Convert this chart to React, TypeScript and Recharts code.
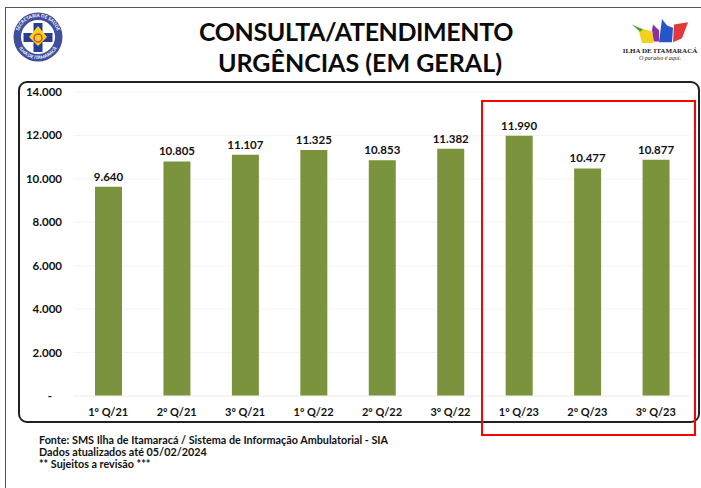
import { BarChart, Bar, XAxis, YAxis, CartesianGrid, LabelList } from "recharts";

const quarters = ["1º Q/21", "2º Q/21", "3º Q/21", "1º Q/22", "2º Q/22", "3º Q/22", "1º Q/23", "2º Q/23", "3º Q/23"];
const atendimentos = [9640, 10805, 11107, 11325, 10853, 11382, 11990, 10477, 10877];
const yTicks = [0, 2000, 4000, 6000, 8000, 10000, 12000, 14000];
const notes = [
  "Fonte: SMS Ilha de Itamaracá / Sistema de Informação Ambulatorial - SIA",
  "Dados atualizados até 05/02/2024",
  "** Sujeitos a revisão ***",
];

const data = quarters.map((q, i) => ({ quarter: q, value: atendimentos[i] }));

const FONT = "Lato, 'Open Sans', sans-serif";
const fmt = (v: number) => (v === 0 ? "-" : v.toLocaleString("de-DE"));

const YTick = ({ x, y, payload }: any) => (
  <text
    x={payload.value === 0 ? x - 10 : x}
    y={y}
    dy={4}
    textAnchor="end"
    fontSize={11.5}
    fontWeight={700}
    fill="#111"
    fontFamily={FONT}
  >
    {fmt(payload.value)}
  </text>
);

const titleStyle = {
  position: "absolute",
  fontFamily: FONT,
  fontWeight: 700,
  fontSize: 25,
  lineHeight: "31px",
  color: "#0b0b0b",
  whiteSpace: "nowrap",
  textAlign: "center",
  width: 400,
} as const;

const App = () => {
  return (
    <div style={{ position: "absolute", left: 0, top: 0, width: 701, height: 488, background: "#fff", overflow: "hidden" }}>
      {/* slide border and chart frame */}
      <div style={{ position: "absolute", left: 5, top: 7, width: 700, height: 490, border: "1.5px solid #555" }} />
      <div style={{ position: "absolute", left: 18, top: 81, width: 678, height: 338, border: "2px solid #222", borderRadius: 9 }} />

      <div style={{ position: "absolute", left: 0, top: 0 }}>
        <BarChart width={701} height={488} data={data} margin={{ top: 92, right: 11, bottom: 62, left: 0 }}>
          <CartesianGrid vertical={false} stroke="#f4f4f4" />
          <XAxis
            dataKey="quarter"
            axisLine={{ stroke: "#f0f0f0" }}
            tickLine={false}
            interval={0}
            tickMargin={6}
            tick={{ fontSize: 11, fontWeight: 700, fill: "#111", fontFamily: FONT }}
          />
          <YAxis
            width={74}
            domain={[0, 14000]}
            ticks={yTicks}
            axisLine={false}
            tickLine={false}
            tickMargin={6}
            tick={<YTick />}
          />
          <Bar dataKey="value" fill="#7a933c" barSize={27} isAnimationActive={false}>
            <LabelList
              dataKey="value"
              position="top"
              offset={6}
              formatter={(v: any) => fmt(Number(v))}
              style={{ fontSize: 11.5, fontWeight: 700, fill: "#111", fontFamily: FONT }}
            />
          </Bar>
        </BarChart>
      </div>

      {/* highlight box */}
      <div style={{ position: "absolute", left: 481, top: 100, width: 211, height: 332, border: "2px solid #f00" }} />

      <div style={{ ...titleStyle, left: 156, top: 16, letterSpacing: -0.4 }}>CONSULTA/ATENDIMENTO</div>
      <div style={{ ...titleStyle, left: 160, top: 47 }}>URGÊNCIAS (EM GERAL)</div>

      {notes.map((line, i) => (
        <div
          key={line}
          style={{
            position: "absolute", left: 39, top: 434 + i * 12,
            fontFamily: FONT, fontWeight: 700, fontSize: 10.8, lineHeight: "12px", color: "#111", whiteSpace: "nowrap",
          }}
        >
          {line}
        </div>
      ))}

      {/* left emblem */}
      <svg style={{ position: "absolute", left: 12, top: 11 }} width={52} height={52}>
        <defs>
          <path id="ringTop" d="M6 26a20 20 0 0 1 40 0" />
          <path id="ringBottom" d="M4 26a22 22 0 0 0 44 0" />
        </defs>
        <circle cx={26} cy={26} r={24.5} fill="#3f4f9e" />
        <circle cx={26} cy={26} r={17} fill="#fff" />
        <text fontSize={4.6} fontWeight={700} fill="#fff" fontFamily={FONT} textAnchor="middle">
          <textPath href="#ringTop" startOffset="50%">SECRETARIA DE SAÚDE</textPath>
        </text>
        <text fontSize={4.6} fontWeight={700} fill="#fff" fontFamily={FONT} textAnchor="middle">
          <textPath href="#ringBottom" startOffset="50%">ILHA DE ITAMARACÁ</textPath>
        </text>
        <path d="M21.5 12h9v10h10v9h-10v10h-9V31h-10v-9h10z" fill="#2a3c94" />
        <path d="M26 15l9 11-9 9-9-9z" fill="#f4d21f" />
        <circle cx={26} cy={27} r={4} fill="none" stroke="#d9433f" strokeWidth={1.5} />
      </svg>

      {/* right logo */}
      <svg style={{ position: "absolute", left: 620, top: 18 }} width={80} height={46}>
        <g transform="translate(0,-3) scale(1,0.8)">
          <path d="M18 16l13 4 4 8-2 7H22z" fill="#f2d21d" />
          <path d="M33 12l6 7 0 14h-5l-2-14z" fill="#8a2fa8" />
          <path d="M42 5l5 8 6 3-1 18H39z" fill="#2456c8" />
          <path d="M54 12l14-3-6 20-9 5z" fill="#e23a3a" />
          <path d="M12 12l11 6-3 3z" fill="#3fa535" />
        </g>
        <text x={40} y={35} textAnchor="middle" fontSize={7} fontWeight={700} fill="#222" fontFamily="'Liberation Serif', serif">ILHA DE ITAMARACÁ</text>
        <text x={40} y={42} textAnchor="middle" fontSize={6} fontStyle="italic" fill="#222" fontFamily="'Liberation Serif', serif">O paraíso é aqui.</text>
      </svg>
    </div>
  );
};

export default App;
